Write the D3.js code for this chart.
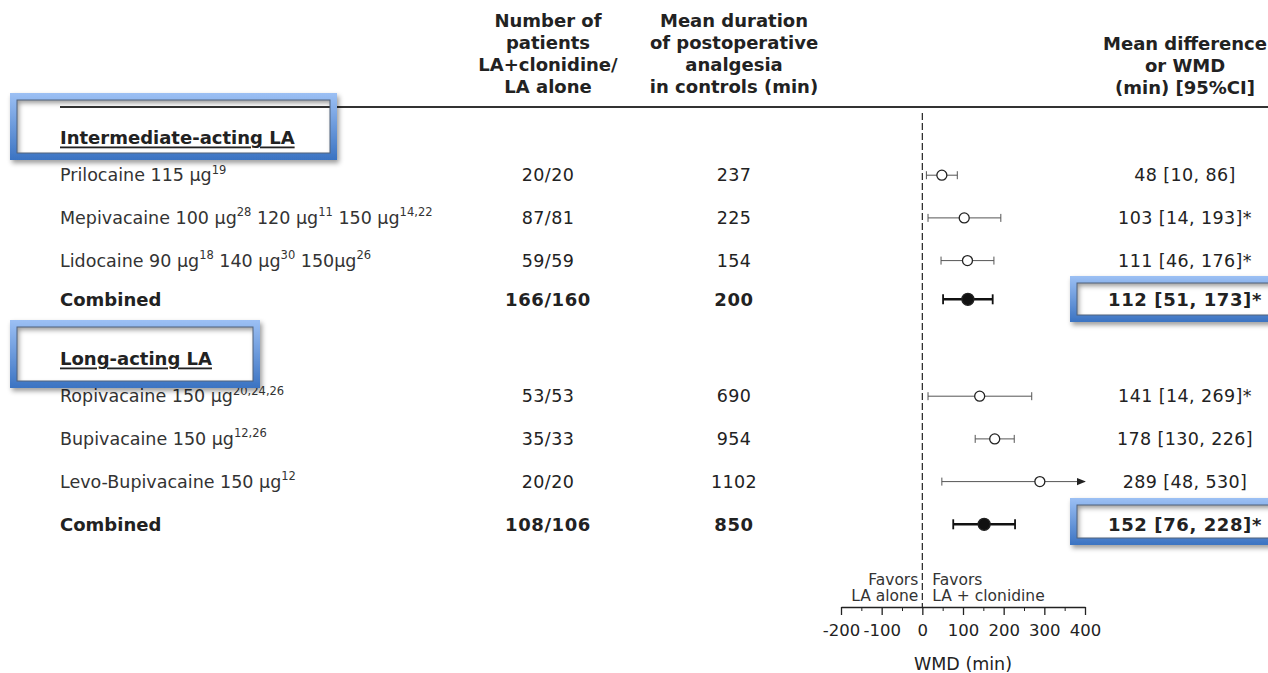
<!DOCTYPE html>
<html>
<head>
<meta charset="utf-8">
<script src="https://cdn.jsdelivr.net/npm/d3@7"></script>
<style>
  body { margin: 0; background: #ffffff; }
  svg { display: block; font-family: "DejaVu Sans", Verdana, sans-serif; }
</style>
</head>
<body>
<div id="forest"></div>
<script>
// Rows of the table (^{..} marks a superscript reference)
var rowLabels = [
    "Intermediate-acting LA",
    "Prilocaine 115 µg^{19}",
    "Mepivacaine 100 µg^{28} 120 µg^{11} 150 µg^{14,22}",
    "Lidocaine 90 µg^{18} 140 µg^{30} 150µg^{26}",
    "Combined",
    "Long-acting LA",
    "Ropivacaine 150 µg^{20,24,26}",
    "Bupivacaine 150 µg^{12,26}",
    "Levo-Bupivacaine 150 µg^{12}",
    "Combined"
];
var rowTypes = ["group", "study", "study", "study", "combined", "group", "study", "study", "study", "combined"];
var patients = [null, "20/20", "87/81", "59/59", "166/160", null, "53/53", "35/33", "20/20", "108/106"];
var controlMean = [null, 237, 225, 154, 200, null, 690, 954, 1102, 850];
var wmd = [null, 48, 103, 111, 112, null, 141, 178, 289, 152];
var ciLow = [null, 10, 14, 46, 51, null, 14, 130, 48, 76];
var ciHigh = [null, 86, 193, 176, 173, null, 269, 226, 530, 228];
var significant = [false, false, true, true, true, false, true, false, false, true];

// Axis
var axisDomain = [-200, 400];
var majorTicks = [-200, -100, 0, 100, 200, 300, 400];
var minorTicks = [-150, -50, 50, 150, 250, 350];

// Column headers
var headPatients = ["Number of", "patients", "LA+clonidine/", "LA alone"];
var headControl = ["Mean duration", "of postoperative", "analgesia", "in controls (min)"];
var headWmd = ["Mean difference", "or WMD", "(min) [95%CI]"];

var svgWidth = 1268;
var svgHeight = 673;
var textColor = "#222";
var bodySize = 17.5;
var boldSize = 18;

var svg = d3.select("#forest")
    .append("svg")
    .attr("width", svgWidth)
    .attr("height", svgHeight);

var defs = svg.append("defs");

// Blue gradient + shadow for the highlight frames
var grad = defs.append("linearGradient")
    .attr("id", "blueFrame")
    .attr("x1", 0).attr("y1", 0).attr("x2", 0).attr("y2", 1);
grad.append("stop").attr("offset", "0%").attr("stop-color", "#9cc0f4");
grad.append("stop").attr("offset", "100%").attr("stop-color", "#3b73c2");

var shadow = defs.append("filter")
    .attr("id", "shadow")
    .attr("x", "-10%").attr("y", "-20%").attr("width", "130%").attr("height", "160%");
shadow.append("feDropShadow")
    .attr("dx", 2).attr("dy", 3).attr("stdDeviation", 2.5)
    .attr("flood-color", "#000").attr("flood-opacity", 0.4);

// Row positions
function rowY(i) {
    var y = 132.5 + i * 42.7 + (i >= 5 ? 7.5 : 0);
    if (rowTypes[i] == "group") y += 4;
    // first combined row sits a bit closer to its studies
    if (i == 4) y -= 4;
    return y;
}

// Column positions
var colLabel = 60;
var colPatients = 548;
var colControl = 734;
var colWmd = 1185;

// Forest plot scale
var xScale = d3.scaleLinear()
    .domain(axisDomain)
    .range([841, 1085]);

var axisY = 607;

// Header text
function headerBlock(lines, x, yStart) {
    lines.forEach(function(line, k) {
        svg.append("text")
            .attr("x", x)
            .attr("y", yStart + k * 22)
            .attr("text-anchor", "middle")
            .attr("dominant-baseline", "central")
            .attr("font-size", boldSize)
            .attr("font-weight", "bold")
            .attr("fill", textColor)
            .text(line);
    });
}
headerBlock(headPatients, colPatients, 20);
headerBlock(headControl, colControl, 20);
headerBlock(headWmd, colWmd, 43);

// Rule under the headers
svg.append("line")
    .attr("x1", colLabel).attr("x2", svgWidth)
    .attr("y1", 107).attr("y2", 107)
    .attr("stroke", "#333")
    .attr("stroke-width", 2);

// Dashed line of no effect
svg.append("line")
    .attr("x1", xScale(0)).attr("x2", xScale(0))
    .attr("y1", 113).attr("y2", axisY)
    .attr("stroke", "#222")
    .attr("stroke-width", 1.2)
    .attr("stroke-dasharray", "7,3");

// Row labels
rowLabels.forEach(function(label, i) {
    var type = rowTypes[i];
    var t = svg.append("text")
        .attr("x", colLabel)
        .attr("y", rowY(i))
        .attr("dominant-baseline", "central")
        .attr("font-size", type == "study" ? bodySize : boldSize)
        .attr("fill", type == "study" ? "#333" : textColor)
        .attr("font-weight", type == "study" ? "normal" : "bold")
        .attr("text-decoration", type == "group" ? "underline" : null);

    // split off the superscript references
    var parts = label.split(/\^\{([^}]*)\}/);
    var lifted = false;
    parts.forEach(function(part, k) {
        if (part === "") return;
        if (k % 2 == 0) {
            t.append("tspan")
                .attr("dy", lifted ? 5.5 : null)
                .text(part);
            lifted = false;
        } else {
            t.append("tspan")
                .attr("font-size", 11.5)
                .attr("dy", -5.5)
                .text(part);
            lifted = true;
        }
    });
});

// Patients, control means and WMD text
rowLabels.forEach(function(label, i) {
    if (patients[i] === null) return;
    var combined = rowTypes[i] == "combined";
    var cols = [
        [colPatients, patients[i]],
        [colControl, controlMean[i]],
        [colWmd, wmd[i] + " [" + ciLow[i] + ", " + ciHigh[i] + "]" + (significant[i] ? "*" : "")]
    ];
    cols.forEach(function(c) {
        svg.append("text")
            .attr("x", c[0])
            .attr("y", rowY(i))
            .attr("text-anchor", "middle")
            .attr("dominant-baseline", "central")
            .attr("font-size", combined ? boldSize : bodySize)
            .attr("font-weight", combined ? "bold" : "normal")
            .attr("letter-spacing", combined ? 0.6 : 0.4)
            .attr("fill", textColor)
            .text(c[1]);
    });
});

// Arrow marker for intervals running past the axis
defs.append("marker")
    .attr("id", "arrow")
    .attr("viewBox", "0 0 10 10")
    .attr("refX", 9).attr("refY", 5)
    .attr("markerWidth", 9).attr("markerHeight", 9)
    .attr("markerUnits", "userSpaceOnUse")
    .attr("orient", "auto")
    .append("path")
    .attr("d", "M0,1 L10,5 L0,9 Z")
    .attr("fill", "#222");

// Confidence intervals and point estimates
var plotRows = d3.range(rowLabels.length).filter(function(i) { return wmd[i] !== null; });

var ciGroup = svg.append("g");
plotRows.forEach(function(i) {
    var combined = rowTypes[i] == "combined";
    var y = rowY(i);
    var lo = Math.max(ciLow[i], axisDomain[0]);
    var hi = Math.min(ciHigh[i], axisDomain[1]);
    var clipped = ciHigh[i] > axisDomain[1];
    var sw = combined ? 2.5 : 1;
    var col = combined ? "#111" : "#555";
    var cap = combined ? 5 : 4;

    ciGroup.append("line")
        .attr("x1", xScale(lo)).attr("x2", xScale(hi))
        .attr("y1", y).attr("y2", y)
        .attr("stroke", col)
        .attr("stroke-width", sw)
        .attr("marker-end", clipped ? "url(#arrow)" : null);

    ciGroup.append("line")
        .attr("x1", xScale(lo)).attr("x2", xScale(lo))
        .attr("y1", y - cap).attr("y2", y + cap)
        .attr("stroke", col)
        .attr("stroke-width", combined ? 1.8 : 1);

    if (!clipped) {
        ciGroup.append("line")
            .attr("x1", xScale(hi)).attr("x2", xScale(hi))
            .attr("y1", y - cap).attr("y2", y + cap)
            .attr("stroke", col)
            .attr("stroke-width", combined ? 1.8 : 1);
    }

    ciGroup.append("circle")
        .attr("cx", xScale(wmd[i]))
        .attr("cy", y)
        .attr("r", combined ? 6 : 5)
        .attr("fill", combined ? "#111" : "#fff")
        .attr("stroke", "#222")
        .attr("stroke-width", 1.3);
});

// Axis with major and minor ticks (plain hyphen for negatives)
var xAxis = d3.axisBottom(xScale)
    .tickValues(majorTicks)
    .tickSize(8)
    .tickSizeOuter(0)
    .tickPadding(9)
    .tickFormat(function(d) { return String(d); });

var axisG = svg.append("g")
    .attr("transform", `translate(0, ${axisY})`)
    .call(xAxis);
axisG.select(".domain").attr("stroke", "#222").attr("stroke-width", 1.3);
axisG.selectAll(".tick line").attr("stroke", "#222").attr("stroke-width", 1.3);
axisG.selectAll(".tick text")
    .attr("font-family", "DejaVu Sans, Verdana, sans-serif")
    .attr("font-size", 16.5)
    .attr("fill", textColor);

var minorAxis = d3.axisBottom(xScale)
    .tickValues(minorTicks)
    .tickSize(4)
    .tickSizeOuter(0)
    .tickFormat("");
var minorG = svg.append("g")
    .attr("transform", `translate(0, ${axisY})`)
    .call(minorAxis);
minorG.select(".domain").remove();
minorG.selectAll(".tick line").attr("stroke", "#222");

// Axis title
svg.append("text")
    .attr("x", xScale(100))
    .attr("y", 664)
    .attr("text-anchor", "middle")
    .attr("dominant-baseline", "central")
    .attr("font-size", 17.5)
    .attr("fill", textColor)
    .text("WMD (min)");

// "Favors" labels either side of zero
[["Favors", 580], ["LA alone", 596]].forEach(function(d) {
    svg.append("text")
        .attr("x", xScale(0) - 4)
        .attr("y", d[1])
        .attr("text-anchor", "end")
        .attr("dominant-baseline", "central")
        .attr("font-size", 15.5)
        .attr("fill", "#333")
        .text(d[0]);
});
[["Favors", 580], ["LA + clonidine", 596]].forEach(function(d) {
    svg.append("text")
        .attr("x", xScale(0) + 10)
        .attr("y", d[1])
        .attr("dominant-baseline", "central")
        .attr("font-size", 15.5)
        .attr("fill", "#333")
        .text(d[0]);
});

// Blue highlight frames drawn on top
var frames = [
    [10, 93, 327, 67],
    [10, 320, 250, 68],
    [1070, 276, 210, 46],
    [1070, 498, 210, 47]
];
frames.forEach(function(f) {
    var x = f[0], y = f[1], w = f[2], h = f[3], b = 7;
    var g = svg.append("g").attr("filter", "url(#shadow)");
    g.append("path")
        .attr("d", `M${x},${y}h${w}v${h}h${-w}Z M${x + b},${y + b}v${h - 2 * b}h${w - 2 * b}v${-(h - 2 * b)}Z`)
        .attr("fill", "url(#blueFrame)")
        .attr("fill-rule", "evenodd");
    svg.append("rect")
        .attr("x", x + b).attr("y", y + b)
        .attr("width", w - 2 * b).attr("height", h - 2 * b)
        .attr("fill", "none")
        .attr("stroke", "#50627c")
        .attr("stroke-width", 1);
});
</script>
</body>
</html>
